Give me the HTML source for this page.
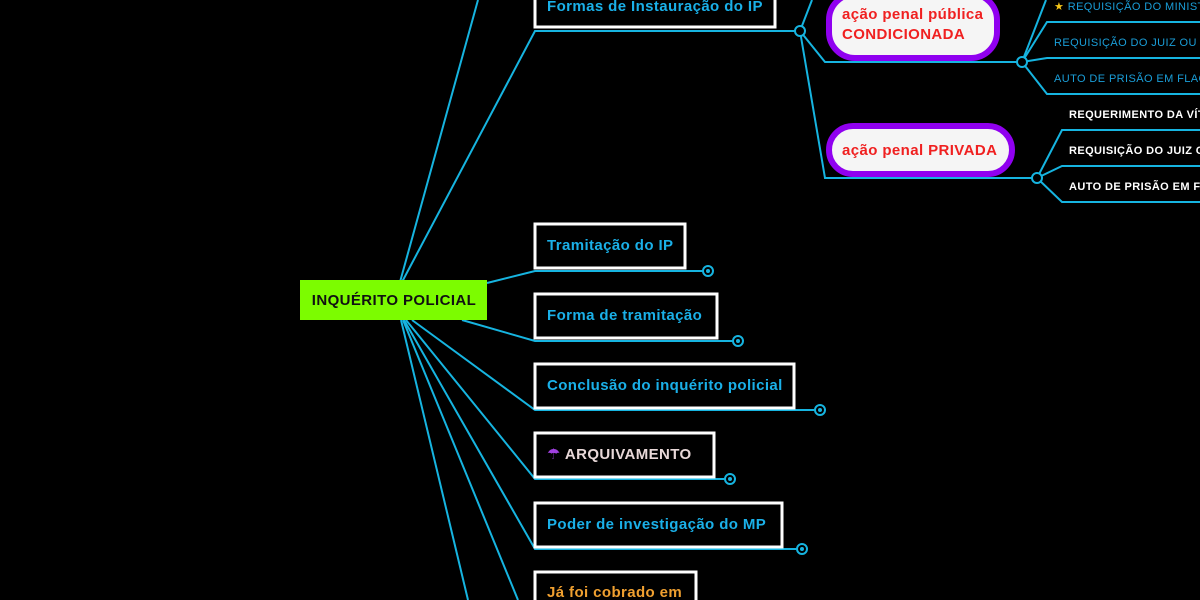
<!DOCTYPE html>
<html><head><meta charset="utf-8"><style>
html,body{margin:0;padding:0;background:#000;width:1200px;height:600px;overflow:hidden}
svg{display:block}
text{font-family:"Liberation Sans","DejaVu Sans",sans-serif}
</style></head><body>
<svg width="1200" height="600" viewBox="0 0 1200 600">
<g fill="none" stroke="#16b4e0" stroke-width="2">
<path d="M400 282 L478 0"/>
<path d="M402 282 L535 31 L800 31"/>
<path d="M487 283 L535 271 L703 271"/>
<path d="M462 320 L535 341 L733 341"/>
<path d="M412 320 L535 410 L815 410"/>
<path d="M406 320 L535 479 L725 479"/>
<path d="M404 320 L535 549 L797 549"/>
<path d="M401 320 L468 600"/>
<path d="M403 320 L518 600"/>
<path d="M800 31 L812 0"/>
<path d="M800 31 L825 62 L1022 62"/>
<path d="M800 31 L825 178 L1037 178"/>
<path d="M1022 62 L1046 0"/>
<path d="M1022 62 L1047 22 L1200 22"/>
<path d="M1022 62 L1047 58 L1200 58"/>
<path d="M1022 62 L1047 94 L1200 94"/>
<path d="M1037 178 L1062 130 L1200 130"/>
<path d="M1037 178 L1062 166 L1200 166"/>
<path d="M1037 178 L1062 202 L1200 202"/>
</g>
<g fill="#000" stroke="#16b4e0" stroke-width="2">
<circle cx="800" cy="31" r="5"/>
<circle cx="1022" cy="62" r="5"/>
<circle cx="1037" cy="178" r="5"/>
<circle cx="708" cy="271" r="5"/><circle cx="738" cy="341" r="5"/><circle cx="820" cy="410" r="5"/>
<circle cx="730" cy="479" r="5"/><circle cx="802" cy="549" r="5"/>
</g>
<g fill="#16b4e0"><circle cx="708" cy="271" r="2"/><circle cx="738" cy="341" r="2"/><circle cx="820" cy="410" r="2"/><circle cx="730" cy="479" r="2"/><circle cx="802" cy="549" r="2"/></g>
<rect x="300" y="280" width="187" height="40" fill="#7cfc00"/>
<text x="394" y="305" text-anchor="middle" font-size="15" font-weight="bold" fill="#111" letter-spacing="0.4">INQUÉRITO POLICIAL</text>
<g fill="#000" stroke="#fff" stroke-width="3">
<rect x="535" y="-20" width="240" height="47"/>
<rect x="535" y="224" width="150" height="44"/>
<rect x="535" y="294" width="182" height="44"/>
<rect x="535" y="364" width="259" height="44"/>
<rect x="535" y="433" width="179" height="44"/>
<rect x="535" y="503" width="247" height="44"/>
<rect x="535" y="572" width="161" height="44"/>
</g>
<g font-size="15" font-weight="bold" fill="#1ab0e8" letter-spacing="0.4">
<text x="547" y="11">Formas de Instauração do IP</text>
<text x="547" y="250">Tramitação do IP</text>
<text x="547" y="320">Forma de tramitação</text>
<text x="547" y="390">Conclusão do inquérito policial</text>
<text x="547" y="459" fill="#e8d8d8"><tspan fill="#a040e0">☂</tspan> ARQUIVAMENTO</text>
<text x="547" y="529">Poder de investigação do MP</text>
<text x="547" y="597" fill="#f0a030">Já foi cobrado em</text>
</g>
<rect x="829" y="-6" width="168" height="64" rx="26" fill="#f5f5f5" stroke="#9000f0" stroke-width="6"/>
<rect x="829" y="126" width="183" height="48" rx="24" fill="#f5f5f5" stroke="#9000f0" stroke-width="6"/>
<g font-size="15" font-weight="bold" fill="#f02020" letter-spacing="0.4">
<text x="842" y="19">ação penal pública</text>
<text x="842" y="39">CONDICIONADA</text>
<text x="842" y="155">ação penal PRIVADA</text>
</g>
<g font-size="11" fill="#1a9ed8" letter-spacing="0.4">
<text x="1054" y="10"><tspan fill="#f5c518">★</tspan> REQUISIÇÃO DO MINISTÉRIO</text>
<text x="1054" y="46">REQUISIÇÃO DO JUIZ OU DO</text>
<text x="1054" y="82">AUTO DE PRISÃO EM FLAGRANTE</text>
</g>
<g font-size="11" font-weight="bold" fill="#fff" letter-spacing="0.4">
<text x="1069" y="118">REQUERIMENTO DA VÍTIMA</text>
<text x="1069" y="154">REQUISIÇÃO DO JUIZ OU</text>
<text x="1069" y="190">AUTO DE PRISÃO EM FLAGRANTE</text>
</g>
</svg>
</body></html>
